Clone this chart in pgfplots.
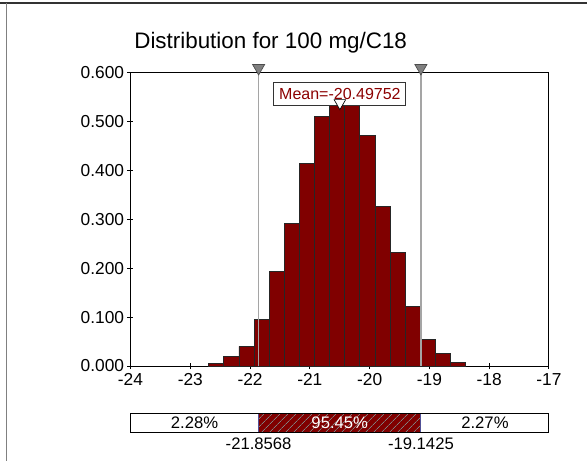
\documentclass[border=0pt]{standalone}
\usepackage{fontspec}
\setmainfont{Liberation Sans}
\usepackage{pgfplots}
\pgfplotsset{compat=1.18}
\usetikzlibrary{patterns.meta}
\definecolor{barred}{RGB}{128,0,0}
\definecolor{meanred}{RGB}{140,0,0}
\definecolor{vline}{RGB}{165,165,165}
\definecolor{trigray}{RGB}{128,128,128}
\definecolor{edgeblue}{RGB}{80,80,150}
\newcommand\fs[1]{\fontsize{#1}{#1}\selectfont}
\begin{document}
\begin{tikzpicture}
\useasboundingbox (0,0) rectangle (440.25pt,-345.75pt);
% outer frame (top and left)
\draw[black!80, line width=1.5pt] (0,-2.5pt) -- (440.25pt,-2.5pt);
\draw[black!50, line width=0.75pt] (4.9pt,-2.5pt) -- (4.9pt,-345.75pt);
% title
\node[anchor=base, font=\fs{16.8pt}, inner sep=0pt] at (203pt,-36.2pt) {Distribution for 100 mg/C18};

\begin{axis}[
  at={(97.875pt,-274.5pt)}, anchor=south west,
  scale only axis, width=313.875pt, height=220pt,
  xmin=-24, xmax=-17, ymin=0, ymax=0.6,
  xtick={-24,-23,-22,-21,-20,-19,-18,-17},
  xticklabels={-24,-23,-22,-21,-20,-19,-18,-17},
  ytick={0,0.1,0.2,0.3,0.4,0.5,0.6},
  yticklabels={0.000,0.100,0.200,0.300,0.400,0.500,0.600},
  xtick pos=bottom, ytick pos=left,
  tick align=center, major tick length=4.5pt,
  tick style={black, line width=0.75pt},
  axis line style={black, line width=0.75pt},
  tick label style={font=\fs{13pt}},
  yticklabel style={xshift=1pt},
  clip=false,
]
\addplot[ybar interval, fill=barred, draw=black!85, line width=0.6pt] coordinates {
(-22.692,0.005)
(-22.439,0.020)
(-22.186,0.040)
(-21.933,0.096)
(-21.680,0.194)
(-21.427,0.292)
(-21.175,0.415)
(-20.922,0.511)
(-20.669,0.553)
(-20.416,0.537)
(-20.163,0.471)
(-19.910,0.326)
(-19.657,0.233)
(-19.404,0.122)
(-19.151,0.055)
(-18.899,0.025)
(-18.646,0.0075)
(-18.393,0.0075)
};
\addplot[vline, line width=1pt] coordinates {(-21.8568,0) (-21.8568,0.6)};
\addplot[vline, line width=1pt] coordinates {(-19.1425,0) (-19.1425,0.6)};
\addplot[only marks, mark=triangle*, mark size=5.25pt,
  mark options={rotate=180, fill=trigray, draw=black!70, line width=0.5pt}]
  coordinates {(-21.8568,0.6096) (-19.1425,0.6096)};
\node[draw=black!80, fill=white, text=meanred, font=\fs{12pt},
  minimum width=99pt, minimum height=17pt, inner sep=1pt, line width=0.75pt]
  at (axis cs:-20.4975,0.5565) {Mean=-20.49752};
\addplot[only marks, mark=triangle*, mark size=5pt,
  mark options={rotate=180, fill=white, draw=black, line width=0.5pt}]
  coordinates {(-20.4975,0.538)};
\end{axis}

\begin{axis}[
  at={(97.875pt,-324.2pt)}, anchor=south west,
  scale only axis, width=313.875pt, height=14.25pt,
  xmin=-24, xmax=-17, ymin=0, ymax=1,
  hide axis, clip=false,
]
\addplot[fill=white, draw=none] coordinates {(-24,0) (-21.8568,0) (-21.8568,1) (-24,1)} -- cycle;
\addplot[fill=barred, draw=none,
  postaction={pattern={Lines[angle=45,distance=4pt,line width=0.5pt]}, pattern color=gray}]
  coordinates {(-21.8568,0) (-19.1425,0) (-19.1425,1) (-21.8568,1)} -- cycle;
\addplot[fill=white, draw=none] coordinates {(-19.1425,0) (-17,0) (-17,1) (-19.1425,1)} -- cycle;
\addplot[edgeblue, line width=0.75pt] coordinates {(-21.8568,0) (-21.8568,1)};
\addplot[edgeblue, line width=0.75pt] coordinates {(-19.1425,0) (-19.1425,1)};
\addplot[draw=black, line width=0.75pt] coordinates {(-24,0) (-17,0) (-17,1) (-24,1)} -- cycle;
\node[font=\fs{12.5pt}] at (axis cs:-22.9284,0.5) {2.28\%};
\node[font=\fs{12.5pt}, text=white] at (axis cs:-20.4997,0.5) {95.45\%};
\node[font=\fs{12.5pt}] at (axis cs:-18.0712,0.5) {2.27\%};
\node[font=\fs{12.5pt}] at (axis cs:-21.8568,-0.616) {-21.8568};
\node[font=\fs{12.5pt}] at (axis cs:-19.1425,-0.616) {-19.1425};
\end{axis}
\end{tikzpicture}
\end{document}
